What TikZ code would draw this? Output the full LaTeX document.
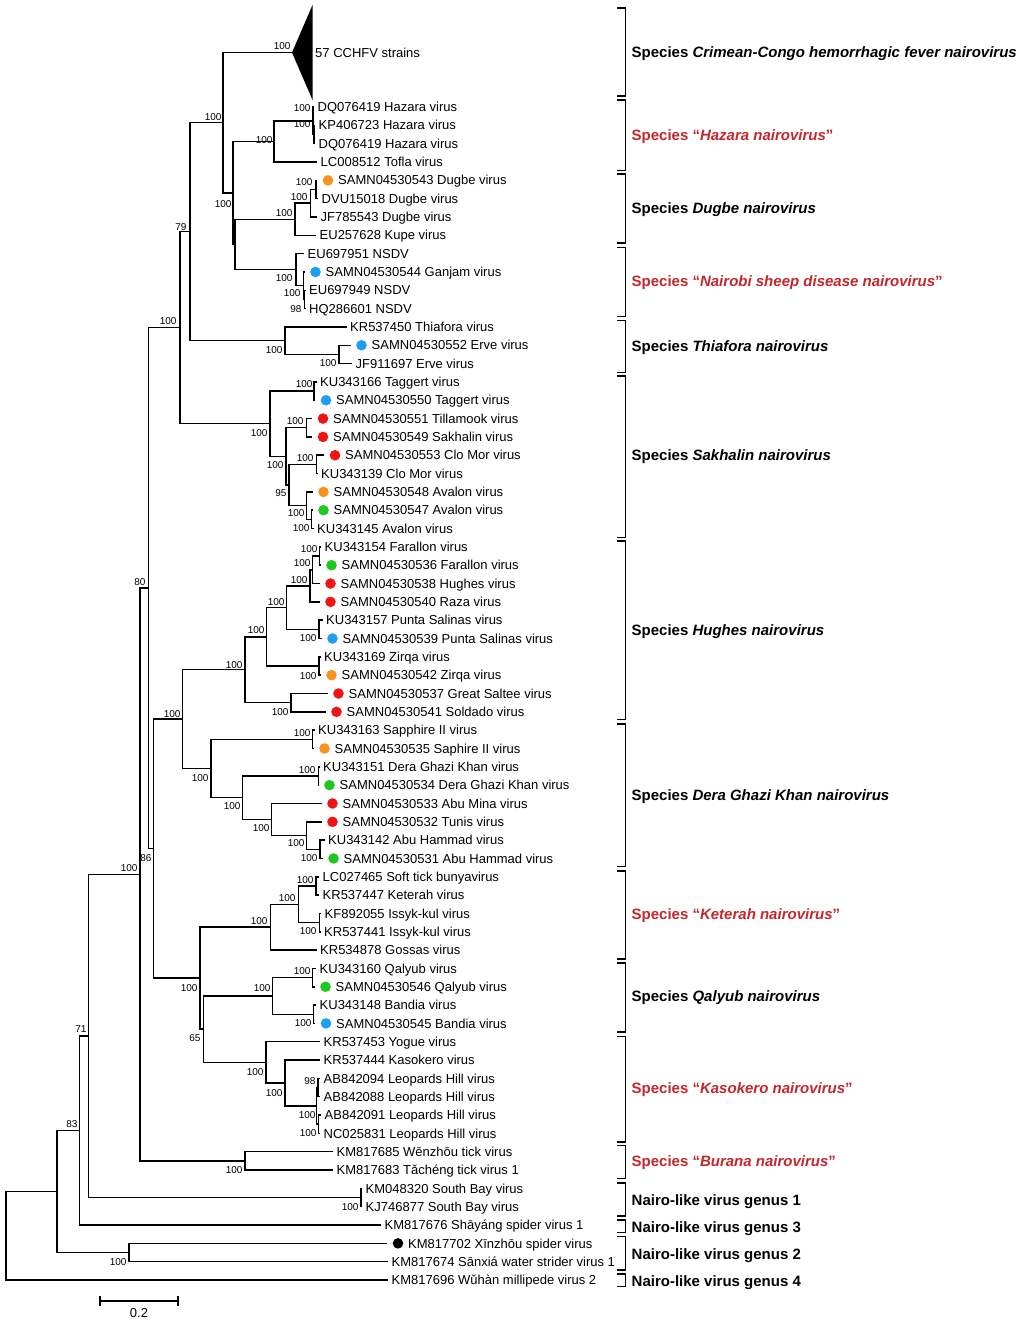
\documentclass[tikz,border=0pt]{standalone}
\usepackage{fontspec}
\setmainfont{Liberation Sans}
\usetikzlibrary{calc}
\definecolor{spred}{RGB}{196,38,44}
\definecolor{dorange}{RGB}{247,147,30}
\definecolor{dblue}{RGB}{30,160,240}
\definecolor{dred}{RGB}{240,20,20}
\definecolor{dgreen}{RGB}{30,200,30}
\tikzset{
  br/.style={line width=1.5pt, line join=miter},
  brk/.style={line width=1.5pt, line join=miter},
  lab/.style={anchor=west, inner sep=1pt, font=\fontsize{13}{15}\selectfont, text height=9.3pt, text depth=0pt},
  bsl/.style={anchor=east, inner sep=0.3pt, font=\fontsize{10}{11}\selectfont, text height=7.2pt, text depth=0pt},
  spl/.style={anchor=west, inner sep=1.5pt, font=\fontsize{15}{17}\selectfont\bfseries, text height=10.8pt, text depth=0pt},
  dot/.style={circle, minimum size=10.6pt, inner sep=0pt, draw=none},
}
\newcommand\clade[4]{%
  \coordinate (#1m) at ($(#3)!0.5!(#4)$);
  \coordinate (#1) at (#1m -| #2,0);
  \draw[br] (#3) -| (#1) |- (#4);
}
\newcommand\leafn[4]{%
  \coordinate (#1) at (#3,{107+18.328*#2});
  \node[lab] (#1t) at ([xshift=2.5pt]#1) {#4};
}
\newcommand\dleaf[5]{%
  \coordinate (#1) at (#3,{107+18.328*#2});
  \node[dot,fill=#4] (#1d) at ([xshift=11pt]#1) {};
  \node[lab] (#1t) at ([xshift=9pt]#1d.center) {#5};
}
\newcommand\bsn[4]{\node[bsl] (#1) at (#2,#3) {#4};}
\newcommand\spbr[6]{%
  \coordinate (#1a) at (617.3,#2);
  \coordinate (#1b) at (625.7,#2);
  \coordinate (#1c) at (625.7,#3);
  \coordinate (#1d) at (617.3,#3);
  \draw[brk] (#1a) -- (#1b) -- (#1c) -- (#1d);
  \node[spl,text=#6] (#1t) at (630,#4) {#5};
}
\begin{document}
\begin{tikzpicture}[x=1pt,y=-1pt]
\useasboundingbox (0,0) rectangle (1024,1323);
% collapsed CCHFV clade
\coordinate (CC) at (292,52.5);
\fill (CC) -- (312.5,5) -- (312.5,100) -- cycle;
\node[lab] (CCt) at (314,52.5) {57 CCHFV strains};
% leaves
\leafn{L0}{0}{314}{DQ076419 Hazara virus}
\leafn{L1}{1}{315}{KP406723 Hazara virus}
\leafn{L2}{2}{315}{DQ076419 Hazara virus}
\leafn{L3}{3}{317}{LC008512 Tofla virus}
\dleaf{L4}{4}{317}{dorange}{SAMN04530543 Dugbe virus}
\leafn{L5}{5}{318}{DVU15018 Dugbe virus}
\leafn{L6}{6}{317}{JF785543 Dugbe virus}
\leafn{L7}{7}{316}{EU257628 Kupe virus}
\leafn{L8}{8}{304}{EU697951 NSDV}
\dleaf{L9}{9}{304.5}{dblue}{SAMN04530544 Ganjam virus}
\leafn{L10}{10}{305.5}{EU697949 NSDV}
\leafn{L11}{11}{305.5}{HQ286601 NSDV}
\leafn{L12}{12}{346.5}{KR537450 Thiafora virus}
\dleaf{L13}{13}{350.5}{dblue}{SAMN04530552 Erve virus}
\leafn{L14}{14}{352}{JF911697 Erve virus}
\leafn{L15}{15}{316.5}{KU343166 Taggert virus}
\dleaf{L16}{16}{315}{dblue}{SAMN04530550 Taggert virus}
\dleaf{L17}{17}{312}{dred}{SAMN04530551 Tillamook virus}
\dleaf{L18}{18}{312}{dred}{SAMN04530549 Sakhalin virus}
\dleaf{L19}{19}{324}{dred}{SAMN04530553 Clo Mor virus}
\leafn{L20}{20}{317.5}{KU343139 Clo Mor virus}
\dleaf{L21}{21}{312.5}{dorange}{SAMN04530548 Avalon virus}
\dleaf{L22}{22}{312.5}{dgreen}{SAMN04530547 Avalon virus}
\leafn{L23}{23}{313.5}{KU343145 Avalon virus}
\leafn{L24}{24}{321}{KU343154 Farallon virus}
\dleaf{L25}{25}{320.5}{dgreen}{SAMN04530536 Farallon virus}
\dleaf{L26}{26}{319.5}{dred}{SAMN04530538 Hughes virus}
\dleaf{L27}{27}{319.5}{dred}{SAMN04530540 Raza virus}
\leafn{L28}{28}{322.5}{KU343157 Punta Salinas virus}
\dleaf{L29}{29}{321.5}{dblue}{SAMN04530539 Punta Salinas virus}
\leafn{L30}{30}{320.5}{KU343169 Zirqa virus}
\dleaf{L31}{31}{320.5}{dorange}{SAMN04530542 Zirqa virus}
\dleaf{L32}{32}{327.5}{dred}{SAMN04530537 Great Saltee virus}
\dleaf{L33}{33}{325.5}{dred}{SAMN04530541 Soldado virus}
\leafn{L34}{34}{314.5}{KU343163 Sapphire II virus}
\dleaf{L35}{35}{313.5}{dorange}{SAMN04530535 Saphire II virus}
\leafn{L36}{36}{319.5}{KU343151 Dera Ghazi Khan virus}
\dleaf{L37}{37}{318.5}{dgreen}{SAMN04530534 Dera Ghazi Khan virus}
\dleaf{L38}{38}{321.5}{dred}{SAMN04530533 Abu Mina virus}
\dleaf{L39}{39}{321.5}{dred}{SAMN04530532 Tunis virus}
\leafn{L40}{40}{324.5}{KU343142 Abu Hammad virus}
\dleaf{L41}{41}{322.5}{dgreen}{SAMN04530531 Abu Hammad virus}
\leafn{L42}{42}{319}{LC027465 Soft tick bunyavirus}
\leafn{L43}{43}{319}{KR537447 Keterah virus}
\leafn{L44}{44}{321}{KF892055 Issyk-kul virus}
\leafn{L45}{45}{320.5}{KR537441 Issyk-kul virus}
\leafn{L46}{46}{316.5}{KR534878 Gossas virus}
\leafn{L47}{47}{316}{KU343160 Qalyub virus}
\dleaf{L48}{48}{314.5}{dgreen}{SAMN04530546 Qalyub virus}
\leafn{L49}{49}{316}{KU343148 Bandia virus}
\dleaf{L50}{50}{315}{dblue}{SAMN04530545 Bandia virus}
\leafn{L51}{51}{320}{KR537453 Yogue virus}
\leafn{L52}{52}{320}{KR537444 Kasokero virus}
\leafn{L53}{53}{320}{AB842094 Leopards Hill virus}
\leafn{L54}{54}{320}{AB842088 Leopards Hill virus}
\leafn{L55}{55}{321}{AB842091 Leopards Hill virus}
\leafn{L56}{56}{320}{NC025831 Leopards Hill virus}
\leafn{L57}{57}{333}{KM817685 Wēnzhōu tick virus}
\leafn{L58}{58}{333}{KM817683 Tǎchéng tick virus 1}
\leafn{L59}{59}{362}{KM048320 South Bay virus}
\leafn{L60}{60}{362}{KJ746877 South Bay virus}
\leafn{L61}{61}{381}{KM817676 Shāyáng spider virus 1}
\dleaf{L62}{62}{387}{black}{KM817702 Xīnzhōu spider virus}
\leafn{L63}{63}{388}{KM817674 Sānxiá water strider virus 1}
\leafn{L64}{64}{388}{KM817696 Wǔhàn millipede virus 2}
% internal nodes
\clade{H2}{314}{L1}{L2}
\clade{H1}{313}{L0}{H2}
\clade{Hz}{274}{H1}{L3}
\clade{Dg2}{316}{L4}{L5}
\clade{Dg1}{310.5}{Dg2}{L6}
\clade{Dg}{295}{Dg1}{L7}
\clade{Ns2}{304.5}{L10}{L11}
\clade{Ns1}{303.5}{L9}{Ns2}
\clade{Ns}{296}{L8}{Ns1}
\clade{B2}{235}{Dg}{Ns}
\clade{B}{233}{Hz}{B2}
\clade{A}{223}{CC}{B}
\clade{Er}{339}{L13}{L14}
\clade{T}{285}{L12}{Er}
\clade{C}{190}{A}{T}
\clade{Tg}{314}{L15}{L16}
\clade{Ti}{306.7}{L17}{L18}
\clade{CM}{316.7}{L19}{L20}
\clade{Av1}{311.7}{L22}{L23}
\clade{Av}{306.7}{L21}{Av1}
\clade{S2}{289}{CM}{Av}
\clade{S1}{286}{Ti}{S2}
\clade{S}{270}{Tg}{S1}
\clade{D}{180}{C}{S}
\clade{Hu5}{319.5}{L24}{L25}
\clade{Hu4}{312.7}{Hu5}{L26}
\clade{Hu3}{310}{Hu4}{L27}
\clade{Pu}{319}{L28}{L29}
\clade{Hu2}{286.7}{Hu3}{Pu}
\clade{Zq}{319}{L30}{L31}
\clade{Hu1}{266.7}{Hu2}{Zq}
\clade{GS}{291}{L32}{L33}
\clade{Hu}{245}{Hu1}{GS}
\clade{Sa}{312.7}{L34}{L35}
\clade{DGK}{318.3}{L36}{L37}
\clade{AH}{320}{L40}{L41}
\clade{DG3}{306.7}{L39}{AH}
\clade{DG2}{271.7}{L38}{DG3}
\clade{DG1}{242.7}{DGK}{DG2}
\clade{DG}{211}{Sa}{DG1}
\clade{G}{182.7}{Hu}{DG}
\clade{Ke2}{316}{L42}{L43}
\clade{IK}{319.3}{L44}{L45}
\clade{Ke1}{298.3}{Ke2}{IK}
\clade{Ke}{270.7}{Ke1}{L46}
\clade{Qa}{312.7}{L47}{L48}
\clade{Ba}{313.3}{L49}{L50}
\clade{QB}{272.7}{Qa}{Ba}
\clade{LH1}{318}{L53}{L54}
\clade{LH2}{318.5}{L55}{L56}
\clade{LH}{316.7}{LH1}{LH2}
\clade{Ka1}{285}{L52}{LH}
\clade{Ka}{266}{L51}{Ka1}
\clade{K2}{203.3}{QB}{Ka}
\clade{K}{200}{Ke}{K2}
\clade{F}{153.3}{G}{K}
\clade{E}{148.3}{D}{F}
\clade{Bu}{245}{L57}{L58}
\clade{E2}{140}{E}{Bu}
\clade{SB}{361}{L59}{L60}
\clade{P}{88.3}{E2}{SB}
\clade{Q}{79.3}{P}{L61}
\clade{G2}{129}{L62}{L63}
\clade{U}{57}{Q}{G2}
\clade{R}{6}{U}{L64}
% bootstrap values
\bsn{bCC}{291}{46}{100}
\bsn{bA}{222}{117}{100}
\bsn{bB}{232}{204}{100}
\bsn{bHz}{273}{140}{100}
\bsn{bH1}{311}{108}{100}
\bsn{bH2}{311}{124}{100}
\bsn{bDg2}{313}{182}{100}
\bsn{bDg1}{308}{197}{100}
\bsn{bDg}{293}{213}{100}
\bsn{bNs}{293}{278}{100}
\bsn{bNs1}{301}{293}{100}
\bsn{bNs2}{302}{309}{98}
\bsn{bC}{187}{227}{79}
\bsn{bD}{177}{321}{100}
\bsn{bT}{283}{350}{100}
\bsn{bEr}{337}{363}{100}
\bsn{bS}{268}{433}{100}
\bsn{bTg}{313}{384}{100}
\bsn{bTi}{304}{421}{100}
\bsn{bS1}{284}{465}{100}
\bsn{bCM}{314}{458}{100}
\bsn{bS2}{287}{493}{95}
\bsn{bAv}{305}{513}{100}
\bsn{bAv1}{310}{528}{100}
\bsn{bE}{146}{582}{80}
\bsn{bHu5}{318}{549}{100}
\bsn{bHu4}{311}{563}{100}
\bsn{bHu3}{308}{580}{100}
\bsn{bHu2}{285}{602}{100}
\bsn{bPu}{317}{638}{100}
\bsn{bHu1}{265}{630}{100}
\bsn{bZq}{317}{676}{100}
\bsn{bHu}{243}{665}{100}
\bsn{bGS}{289}{712}{100}
\bsn{bG}{181}{714}{100}
\bsn{bSa}{311}{733}{100}
\bsn{bDGK}{316}{770}{100}
\bsn{bDG}{209}{778}{100}
\bsn{bDG1}{241}{806}{100}
\bsn{bDG2}{270}{828}{100}
\bsn{bDG3}{305}{843}{100}
\bsn{bAH}{318}{858}{100}
\bsn{bF}{152}{858}{86}
\bsn{bE2}{138}{868}{100}
\bsn{bKe2}{314}{880}{100}
\bsn{bKe1}{296}{898}{100}
\bsn{bKe}{268}{921}{100}
\bsn{bIK}{317}{931}{100}
\bsn{bK}{198}{988}{100}
\bsn{bQB}{271}{988}{100}
\bsn{bQa}{311}{971}{100}
\bsn{bBa}{312}{1023}{100}
\bsn{bKtwo}{201}{1038}{65}
\bsn{bP}{87}{1029}{71}
\bsn{bKa}{264}{1072}{100}
\bsn{bKa1}{283}{1093}{100}
\bsn{bLH1}{316}{1081}{98}
\bsn{bLH}{316}{1115}{100}
\bsn{bLH2}{317}{1133}{100}
\bsn{bQ}{78}{1124}{83}
\bsn{bBu}{243}{1170}{100}
\bsn{bSB}{359}{1207}{100}
\bsn{bG2}{127}{1262}{100}
% scale bar
\coordinate (sb1) at (100,1301);
\coordinate (sb2) at (178,1301);
\draw[br] (sb1) -- (sb2);
\draw[br] ([yshift=5pt]sb1) -- ([yshift=-5pt]sb1);
\draw[br] ([yshift=5pt]sb2) -- ([yshift=-5pt]sb2);
\node[lab,anchor=center] (sbt) at (139,1313) {0.2};
% species brackets
\spbr{s1}{8}{96}{52}{Species \textit{Crimean-Congo hemorrhagic fever nairovirus}}{black}
\spbr{s2}{100}{170.5}{135}{Species “\textit{Hazara nairovirus}”}{spred}
\spbr{s3}{174}{243}{208.5}{Species \textit{Dugbe nairovirus}}{black}
\spbr{s4}{247.5}{316.5}{281.5}{Species “\textit{Nairobi sheep disease nairovirus}”}{spred}
\spbr{s5}{320.7}{372.5}{346}{Species \textit{Thiafora nairovirus}}{black}
\spbr{s6}{376}{537.5}{455.5}{Species \textit{Sakhalin nairovirus}}{black}
\spbr{s7}{541}{719.6}{630}{Species \textit{Hughes nairovirus}}{black}
\spbr{s8}{724}{866.4}{795}{Species \textit{Dera Ghazi Khan nairovirus}}{black}
\spbr{s9}{871}{959}{914}{Species “\textit{Keterah nairovirus}”}{spred}
\spbr{s10}{963}{1032}{996.5}{Species \textit{Qalyub nairovirus}}{black}
\spbr{s11}{1036.4}{1142}{1088}{Species “\textit{Kasokero nairovirus}”}{spred}
\spbr{s12}{1145.4}{1178.6}{1161}{Species “\textit{Burana nairovirus}”}{spred}
\spbr{s13}{1183}{1216}{1200}{Nairo-like virus genus 1}{black}
\spbr{s14}{1220}{1232.5}{1227}{Nairo-like virus genus 3}{black}
\spbr{s15}{1236.6}{1270}{1254}{Nairo-like virus genus 2}{black}
\spbr{s16}{1274}{1286.4}{1281}{Nairo-like virus genus 4}{black}
\end{tikzpicture}
\end{document}
